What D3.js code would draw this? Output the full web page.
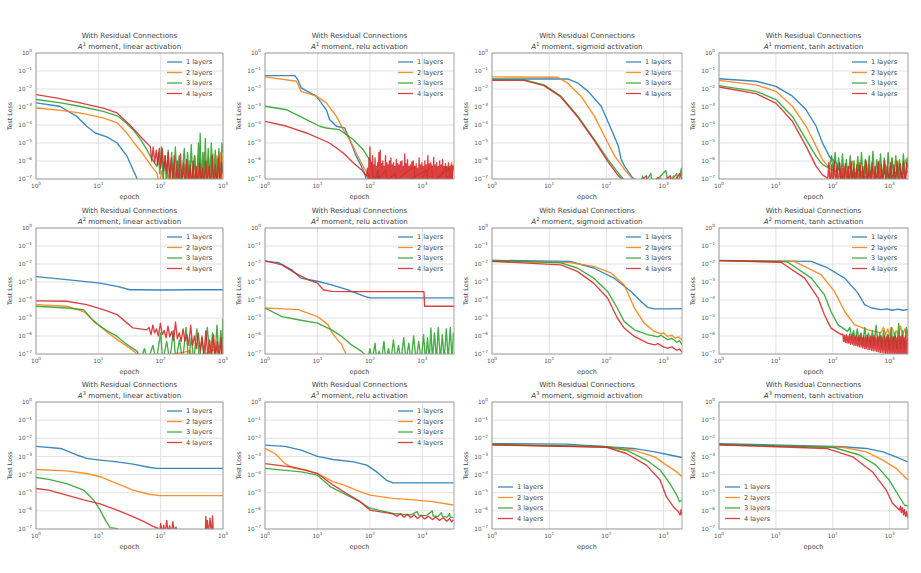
<!DOCTYPE html>
<html><head><meta charset="utf-8">
<script src="https://cdn.jsdelivr.net/npm/d3@7/dist/d3.min.js"></script>
<style>
body{margin:0;background:#ffffff;}
svg{display:block;font-family:"DejaVu Sans","Liberation Sans",sans-serif;}
</style>
</head><body>
<svg id="chart" width="921" height="573"></svg>
<script>
// ---------------- DATA ----------------
const layerLabels = ["1 layers", "2 layers", "3 layers", "4 layers"];
const activations = ["linear", "relu", "sigmoid", "tanh"];
const moments = [1, 2, 3];
const yTickValues = [1e0, 1e-1, 1e-2, 1e-3, 1e-4, 1e-5, 1e-6, 1e-7];
const xTickValues = [1, 10, 100, 1000];
const xMaxByActivation = [1000, 4000, 2100, 2100];
const legendCorner = [
  ["upper", "upper", "upper", "upper"],
  ["upper", "upper", "upper", "upper"],
  ["upper", "upper", "lower", "lower"]
];

// Each series: [epoch, test loss]
const A1_linear = [
  [[1,1.7e-3],[2.4,1.1e-3],[4.5,3e-4],[6.5,8.5e-5],[8.9,3.6e-5],[13.7,2.2e-5],[20,1e-5],[29,1.8e-6],[36,3.3e-7],[44,7e-8]],
  [[1,8.8e-4],[2.5,6.5e-4],[5,4.7e-4],[12,2.5e-4],[20,1.3e-4],[28,4e-5],[36,1.2e-5],[48,3.5e-6],[60,1.2e-6],[75,4e-7],[87,2.2e-7],
   [95,5e-8],[105,3e-7],[115,4e-8],[130,2e-7],[145,3e-8],[160,4e-7],[175,3e-8],[195,2e-7],[215,4e-8],[240,6e-7],[265,3e-8],[290,1e-6],[320,4e-8],[350,2e-6],[385,5e-8],[420,1.5e-6],[460,4e-8],[500,3e-6],[545,6e-8],[590,1.5e-6],[640,4e-8],[690,2.5e-6],[745,5e-8],[800,2e-6],[860,6e-8],[920,3e-6],[960,8e-8],[1000,2e-6]],
  [[1,2.6e-3],[2.5,1.7e-3],[5,1.1e-3],[12,5.7e-4],[21,3e-4],[28,1.3e-4],[36,5.5e-5],[48,1.5e-5],[60,4.3e-6],[72,1.3e-6],[87,5e-7],
   [92,3e-6],[97,2e-7],[103,6e-6],[110,1e-7],[117,2e-6],[124,5e-8],[132,4e-6],[140,6e-8],[150,3e-6],[160,4e-8],[172,6e-6],[185,5e-8],[198,2e-6],[212,4e-8],[240,5e-6],[255,6e-8],[270,3e-6],[290,4e-8],[310,8e-6],[330,5e-8],[350,2e-6],[376,4e-8],[404,1e-5],[420,5e-8],[430,3.5e-5],[450,4e-8],[475,3e-6],[500,4e-8],[520,1.8e-5],[545,6e-8],[580,5e-6],[610,5e-8],[650,1e-5],[700,4e-8],[750,4e-6],[800,6e-8],[860,5e-6],[920,4e-8],[960,1e-5],[1000,3e-6]],
  [[1,4.9e-3],[2.1,3.2e-3],[5.1,1.7e-3],[12,8.7e-4],[20,4.7e-4],[32,1e-4],[53,1.5e-5],[68,6.5e-6],
   [72,1e-6],[76,6e-6],[80,8e-7],[85,4e-6],[90,6e-7],[95,5e-6],[100,4e-7],[106,5e-6],[112,3e-7],[118,2e-6],[125,2e-7],[132,3e-6],[140,1e-7],[148,1.5e-6],[156,6e-8],[165,2e-6],[175,5e-8],[185,1e-6],[196,4e-8],[208,2.5e-6],[220,5e-8],[233,8e-7],[247,3e-8],[262,1.2e-6],[278,5e-8],[295,6e-7],[313,3e-8],[332,1e-6],[352,4e-8],[373,5e-7],[395,3e-8],[420,8e-7],[445,5e-8],[472,4e-7],[500,3e-8],[530,1e-6],[562,5e-8],[596,5e-7],[632,3e-8],[670,2e-6],[710,4e-8],[752,6e-7],[797,3e-8],[845,1.5e-6],[896,5e-8],[950,8e-7],[1000,2e-7]]
];

const A1_relu = [
  [[1,5.5e-2],[3.7,5.5e-2],[4.3,3e-2],[4.9,1.15e-2],[9.5,4e-3],[14.8,7e-4],[17,2e-4],[23,8.5e-5],[33,6.8e-5],[41,1.6e-5],[55,1.8e-6],[69,5e-7],
   [80,2e-7],[90,4e-8],[150,1.5e-7],[170,4e-8]],
  [[1,4.7e-2],[4,2.7e-2],[4.9,7.4e-3],[9.5,4e-3],[14.8,1.7e-3],[23,3e-4],[31,5.5e-5],[41,1.55e-5],[55,2.8e-6],[74,5e-7],[98,1.4e-7],
   [110,4e-8],[200,3e-7],[220,4e-8],[700,5e-7],[740,4e-8],[1500,6e-7],[1600,4e-8],[2800,5e-7],[3000,4e-8],[3600,8e-7],[3950,3e-7]],
  [[1,1.1e-3],[2.6,7e-4],[6.2,2e-4],[11,8.5e-5],[14.8,6.8e-5],[26,5.5e-5],[48,1.55e-5],[74,4.3e-6],[98,1.2e-6],
   [110,6e-7],[120,5e-8],[140,3e-7],[160,4e-8],[300,2e-7],[330,4e-8],[1200,3e-7],[1300,4e-8],[3200,4e-7],[3400,5e-8],[3950,6e-7]],
  [[1,1.6e-4],[2.6,8.5e-5],[6.2,3.6e-5],[17,1e-5],[31,2.8e-6],[48,8e-7],[69,3.3e-7],[85,1.4e-7],
   [90,4e-7],[93,3e-8],[96,1.5e-6],[98,4e-8],[100,6e-6],[103,5e-8],[106,8e-7],[109,3e-8],[112,2e-6],[115,4e-8],[118,6e-7],[121,3e-8],[125,1.5e-6],[129,4e-8],[132,5e-7],[136,3e-8],[140,8e-7],[144,3e-8],[148,3e-6],[152,4e-8],[157,4e-6],[161,5e-8],[166,7e-7],[171,3e-8],[176,1e-6],[181,4e-8],[187,5e-7],[192,3e-8],[198,2e-6],[204,4e-8],[210,8e-7],[216,3e-8],[222,6e-7],[229,4e-8],[235,1e-6],[242,3e-8],[250,1.5e-6],[257,4e-8],[265,6e-7],[273,3e-8],[282,8e-7],[290,4e-8],[300,5e-7],[309,3e-8],[318,1.2e-6],[328,5e-8],[338,7e-7],[349,3e-8],[360,6e-7],[371,4e-8],[382,9e-7],[394,3e-8],[406,1e-6],[419,4e-8],[432,5e-7],[446,3e-8],[460,2.5e-6],[475,4e-8],[490,7e-7],[505,3e-8],[520,1.2e-6],[537,4e-8],[555,5e-7],[572,3e-8],[590,6e-7],[610,4e-8],[630,9e-7],[650,3e-8],[670,1e-6],[692,4e-8],[715,5e-7],[737,3e-8],[760,7e-7],[785,4e-8],[810,4e-7],[837,3e-8],[865,1.5e-6],[892,4e-8],[920,6e-7],[950,3e-8],[980,8e-7],[1012,4e-8],[1045,5e-7],[1080,3e-8],[1115,1e-6],[1150,4e-8],[1190,6e-7],[1230,3e-8],[1270,2e-6],[1310,4e-8],[1350,7e-7],[1395,3e-8],[1440,8e-7],[1490,4e-8],[1540,5e-7],[1590,3e-8],[1640,1.6e-6],[1695,4e-8],[1750,6e-7],[1810,3e-8],[1870,8e-7],[1935,4e-8],[2000,5e-7],[2065,3e-8],[2130,1e-6],[2200,4e-8],[2270,6e-7],[2345,3e-8],[2420,1.2e-6],[2500,4e-8],[2580,5e-7],[2665,3e-8],[2750,7e-7],[2845,4e-8],[2940,5e-7],[3035,3e-8],[3130,8e-7],[3235,4e-8],[3340,5e-7],[3450,3e-8],[3560,6e-7],[3680,4e-8],[3800,5e-7],[3950,4e-7]]
];

const A1_sigmoid = [
  [[1,3.6e-2],[21,3.6e-2],[32,2.1e-2],[48,7.4e-3],[81,1.1e-3],[123,5.5e-5],[162,6.5e-6],[182,1.2e-6],[209,5e-7],[275,1.4e-7],[363,6e-8]],
  [[1,4.7e-2],[14,4.5e-2],[21,2.1e-2],[36,4e-3],[62,3e-4],[93,2.3e-5],[141,1.8e-6],[209,3.3e-7],[275,1.15e-7],[330,6e-8],
   [600,4e-8],[900,1.2e-7],[950,4e-8],[1500,1.5e-7],[1600,4e-8]],
  [[1,3.3e-2],[3.6,3.3e-2],[8.1,1.7e-2],[16,4e-3],[32,3e-4],[62,1.55e-5],[107,1.2e-6],[162,2.1e-7],[209,8e-8],
   [400,6e-8],[430,1.5e-7],[450,5e-8],[600,2e-7],[630,5e-8],[1100,3e-7],[1200,5e-8],[1700,2e-7],[1800,5e-8],[2050,4e-7],[2100,1e-7]],
  [[1,3e-2],[3.6,3e-2],[8.1,1.55e-2],[16,3.6e-3],[32,2.6e-4],[62,1.3e-5],[107,9e-7],[155,1.8e-7],[195,8e-8],
   [350,5e-8],[500,1.5e-7],[530,4e-8],[800,1.2e-7],[850,4e-8],[1300,1.5e-7],[1400,4e-8],[1900,2e-7],[2100,1e-7]]
];

const A1_tanh = [
  [[1,3.7e-2],[4.5,2.7e-2],[10,1.4e-2],[19.5,4e-3],[34,7e-4],[51,8.5e-5],[66,1e-5],[87,1.8e-6],[115,8e-7],
   [130,3e-7],[150,6e-7],[170,2e-7],[200,5e-7],[230,1.5e-7],[300,4e-7],[350,1e-7],[500,3e-7],[600,8e-8],[900,3e-7],[1000,1e-7],[1500,4e-7],[1700,1e-7],[2100,3e-7]],
  [[1,3e-2],[4.5,1.7e-2],[10,7.4e-3],[19.5,1.1e-3],[34,8.5e-5],[51,6.5e-6],[66,1.2e-6],[87,4e-7],[115,2.5e-7],
   [130,8e-7],[145,1e-7],[165,5e-7],[190,8e-8],[220,1e-6],[250,1e-7],[290,6e-7],[330,8e-8],[380,1.2e-6],[430,1e-7],[500,5e-7],[570,8e-8],[650,1e-6],[740,1e-7],[850,6e-7],[970,8e-8],[1100,1.5e-6],[1250,1e-7],[1450,8e-7],[1650,8e-8],[1900,1.2e-6],[2100,3e-7]],
  [[1,1.55e-2],[4.5,7.4e-3],[10,2.6e-3],[19.5,3e-4],[34,1.55e-5],[51,1.8e-6],[66,6.3e-7],[87,4e-7],
   [95,2e-6],[102,2e-7],[110,3e-6],[118,1.5e-7],[127,1.5e-6],[137,1e-7],[148,2.5e-6],[160,8e-8],[173,1.2e-6],[187,1e-7],[202,2e-6],[218,8e-8],[236,1e-6],[255,6e-8],[275,1.8e-6],[297,8e-8],[320,3e-6],[345,6e-8],[373,1.2e-6],[403,8e-8],[435,2e-6],[470,6e-8],[508,3.5e-6],[548,8e-8],[592,1.2e-6],[640,6e-8],[690,2.5e-6],[745,8e-8],[805,1.5e-6],[870,6e-8],[940,3e-6],[1015,8e-8],[1100,1.5e-6],[1185,6e-8],[1280,2e-6],[1380,8e-8],[1490,1.2e-6],[1610,6e-8],[1740,2.5e-6],[1880,8e-8],[2030,1.5e-6],[2100,5e-7]],
  [[1,1.3e-2],[4.5,5.5e-3],[10,1.65e-3],[19.5,1.6e-4],[34,6.5e-6],[51,5e-7],[66,1.7e-7],[82,1.1e-7],
   [85,8e-7],[90,4e-8],[95,6e-7],[100,3e-8],[106,1e-6],[112,4e-8],[118,5e-7],[125,3e-8],[132,8e-7],[140,4e-8],[148,4e-7],[157,3e-8],[166,7e-7],[176,4e-8],[187,5e-7],[198,3e-8],[210,9e-7],[222,4e-8],[235,4e-7],[250,3e-8],[265,6e-7],[282,4e-8],[300,8e-7],[318,3e-8],[338,5e-7],[360,4e-8],[382,1e-6],[406,3e-8],[432,6e-7],[460,4e-8],[490,8e-7],[520,3e-8],[555,5e-7],[590,4e-8],[630,9e-7],[670,3e-8],[715,6e-7],[760,4e-8],[810,1.1e-6],[865,3e-8],[920,5e-7],[980,4e-8],[1045,8e-7],[1115,3e-8],[1190,6e-7],[1270,4e-8],[1350,1e-6],[1440,3e-8],[1540,7e-7],[1640,4e-8],[1750,9e-7],[1870,3e-8],[2000,8e-7],[2100,4e-7]]
];

const A2_linear = [
  [[1,2e-3],[3.1,1.35e-3],[10.7,8.7e-4],[20,5.7e-4],[32,3.7e-4],[45,3.7e-4],[100,3.6e-4],[300,3.7e-4],[1000,3.7e-4]],
  [[1,5.5e-5],[3.1,4.5e-5],[5.8,2.3e-5],[10.7,3.5e-6],[15.5,1.2e-6],[22,5e-7],[32,2.1e-7],[42,1e-7],
   [60,5e-8],[300,1.5e-7],[320,5e-8],[800,2e-7],[850,5e-8]],
  [[1,4.5e-5],[3.1,3.6e-5],[5.8,2.9e-5],[8.4,6.5e-6],[13,2.2e-6],[20,9.5e-7],[29,3.3e-7],[42,1.4e-7],
   [48,5e-8],[55,2e-7],[62,4e-8],[75,3e-7],[85,4e-8],[100,1.5e-6],[108,4e-8],[125,5e-7],[140,4e-8],[160,2e-6],[175,4e-8],[200,6e-7],[225,4e-8],[255,3e-6],[280,4e-8],[310,8e-7],[340,4e-8],[380,2.5e-6],[420,4e-8],[460,1e-6],[500,4e-8],[560,3e-6],[620,5e-8],[680,1.5e-6],[740,5e-8],[800,4e-6],[860,5e-8],[920,2e-6],[960,5e-8],[990,8e-6],[1000,2e-6]],
  [[1,9e-5],[3.1,8.5e-5],[6.5,5.5e-5],[12,2.9e-5],[20,1.55e-5],[29,5.2e-6],[36,2.8e-6],[60,2.2e-6],
   [65,3e-6],[70,1.2e-6],[75,4e-6],[80,1.5e-6],[86,2.5e-6],[92,1e-6],[99,5e-6],[106,1.2e-6],[114,2e-6],[122,8e-7],[131,3.5e-6],[140,9e-7],[150,1.8e-6],[161,6e-7],[173,6e-6],[185,7e-7],[199,1.5e-6],[213,5e-7],[229,2.5e-6],[245,5e-7],[263,1.2e-6],[282,3e-7],[303,4e-6],[325,3e-7],[348,1e-6],[374,2e-7],[401,1.5e-6],[430,1.5e-7],[461,8e-7],[495,1e-7],[531,2e-6],[570,8e-8],[611,6e-7],[656,7e-8],[704,1.2e-6],[755,6e-8],[810,5e-7],[870,5e-8],[930,8e-7],[970,6e-8],[1000,3e-7]]
];

const A2_relu = [
  [[1,1.4e-2],[1.8,1.2e-2],[3.2,4.9e-3],[4.8,1.65e-3],[10,1.1e-3],[18.6,7e-4],[38,3.7e-4],[79,1.6e-4],[100,1.3e-4],[4000,1.3e-4]],
  [[1,3.6e-5],[1.5,3.4e-5],[4.3,2.9e-5],[10,1.2e-5],[15.8,4.3e-6],[20,1.2e-6],[29,3.3e-7],[35,1e-7],[40,5e-8]],
  [[1,3.6e-5],[2.1,1.2e-5],[4.3,8e-6],[10,5.2e-6],[18.6,2.2e-6],[29,9.5e-7],[44,3.3e-7],[69,1.4e-7],[80,9e-8],
   [90,4e-8],[100,2e-7],[110,4e-8],[125,4e-7],[135,4e-8],[150,1.5e-7],[165,4e-8],[185,5e-7],[200,4e-8],[225,2e-7],[250,4e-8],[280,6e-7],[310,4e-8],[350,3e-7],[390,4e-8],[440,8e-7],[490,4e-8],[550,4e-7],[610,4e-8],[680,1e-6],[760,4e-8],[850,5e-7],[950,4e-8],[1050,1.2e-6],[1150,4e-8],[1250,8e-7],[1350,4e-8],[1450,2.8e-6],[1550,5e-8],[1700,1.5e-6],[1850,4e-8],[2000,3e-6],[2200,5e-8],[2400,1.2e-6],[2600,4e-8],[2850,2.5e-6],[3100,5e-8],[3400,3e-6],[3650,5e-8],[3900,1.5e-6]],
  [[1,1.55e-2],[2.1,9e-3],[3.7,3.2e-3],[6.6,1.35e-3],[10,8.7e-4],[12.9,3.7e-4],[18.6,3e-4],[38,2.9e-4],[1070,2.9e-4],[1100,4.5e-5],[4000,4.5e-5]]
];

const A2_sigmoid = [
  [[1,1.6e-2],[23,1.4e-2],[60,6e-3],[135,1.65e-3],[270,3e-4],[400,8.5e-5],[525,3.9e-5],[690,3.2e-5],[1000,3.2e-5],[2100,3.3e-5]],
  [[1,1.4e-2],[23,1.2e-2],[60,7.4e-3],[120,3.2e-3],[204,7e-4],[309,3.6e-5],[457,5.2e-6],[690,1.8e-6],[900,1.3e-6],[1000,1.5e-6],[1175,9.5e-7],[1400,1.1e-6],[1600,7.5e-7],[1800,9e-7],[2100,6.3e-7]],
  [[1,1.6e-2],[16,1.15e-2],[31,6e-3],[60,1.65e-3],[105,3e-4],[155,3.6e-5],[204,6.5e-6],[309,2.2e-6],[525,1.2e-6],[800,9e-7],[900,1.1e-6],[1175,6.3e-7],[1400,7.5e-7],[1700,4.5e-7],[1900,5.5e-7],[2100,3.3e-7]],
  [[1,1.4e-2],[16,9e-3],[31,3.9e-3],[60,8.7e-4],[105,1.3e-4],[155,1e-5],[204,2.8e-6],[309,9.5e-7],[525,4e-7],[700,3.2e-7],[800,3.8e-7],[1000,2.4e-7],[1175,2.1e-7],[1400,2.5e-7],[1700,1.6e-7],[1900,1.9e-7],[2100,1.3e-7]]
];

const A2_tanh = [
  [[1,1.6e-2],[42,1.4e-2],[81,6e-3],[162,1.65e-3],[275,2.5e-4],[363,5.5e-5],[480,3.6e-5],[710,2.9e-5],[900,3.2e-5],[1100,2.7e-5],[1400,3.1e-5],[1700,2.7e-5],[2100,2.9e-5]],
  [[1,1.55e-2],[21,1.4e-2],[62,2.6e-3],[107,3e-4],[162,2.3e-5],[240,4.3e-6],[417,2.2e-6],[700,1.5e-6],
   [780,3e-6],[850,1.2e-6],[930,2.5e-6],[1000,1e-6],[1100,3e-6],[1200,1.2e-6],[1300,2e-6],[1420,1e-6],[1550,3.5e-6],[1700,1.2e-6],[1850,2.5e-6],[2000,1e-6],[2100,2e-6]],
  [[1,1.55e-2],[16,1.3e-2],[42,1.65e-3],[71,2e-4],[93,2.3e-5],[123,4.3e-6],[182,1.8e-6],
   [200,3e-6],[215,8e-7],[232,2e-6],[250,6e-7],[270,2.5e-6],[290,5e-7],[313,1.5e-6],[338,4e-7],[365,3e-6],[394,4e-7],[425,1.5e-6],[460,3e-7],[495,2e-6],[535,3e-7],[577,4e-6],[623,3e-7],[672,1.5e-6],[725,2.5e-7],[782,2e-6],[845,2.5e-7],[912,1.2e-6],[985,2e-7],[1063,3e-6],[1147,2e-7],[1238,1.5e-6],[1336,2e-7],[1442,5e-6],[1556,2e-7],[1680,2e-6],[1813,2e-7],[1957,3e-6],[2100,1e-6]],
  [[1,1.55e-2],[12.3,1.25e-2],[32,1.65e-3],[55,1.3e-4],[71,1.55e-5],[93,2.75e-6],[141,1.2e-6],
   [150,1.3e-6],[155,5e-7],[160,1.1e-6],[166,4.5e-7],[172,1.2e-6],[178,4e-7],[184,1e-6],[191,4e-7],[198,1.3e-6],[205,3.5e-7],[212,1e-6],[220,3.5e-7],[228,1.2e-6],[236,3e-7],[245,9e-7],[254,3e-7],[263,1.1e-6],[272,2.8e-7],[282,9e-7],[292,2.5e-7],[303,1.2e-6],[314,2.5e-7],[325,8e-7],[337,2.2e-7],[349,1e-6],[362,2e-7],[375,9e-7],[388,2e-7],[402,1.1e-6],[417,1.8e-7],[432,8e-7],[448,1.8e-7],[464,1e-6],[481,1.6e-7],[498,9e-7],[516,1.5e-7],[535,1.1e-6],[554,1.5e-7],[574,8e-7],[595,1.4e-7],[617,1e-6],[639,1.3e-7],[662,9e-7],[686,1.2e-7],[711,1e-6],[737,1.2e-7],[764,8e-7],[792,1.1e-7],[820,1e-6],[850,1e-7],[881,9e-7],[913,1e-7],[946,1.1e-6],[980,9e-8],[1016,8e-7],[1053,9e-8],[1091,1e-6],[1130,8e-8],[1171,9e-7],[1214,8e-8],[1258,1e-6],[1303,7e-8],[1350,8e-7],[1400,7e-8],[1450,1e-6],[1503,6e-8],[1557,9e-7],[1614,6e-8],[1672,1.1e-6],[1733,6e-8],[1796,8e-7],[1861,5e-8],[1928,1e-6],[1998,5e-8],[2070,9e-7],[2100,3e-7]]
];

const A3_linear = [
  [[1,3.6e-3],[2.5,2.75e-3],[4.5,1.2e-3],[6.5,7.8e-4],[10.7,6.3e-4],[20,5e-4],[36,3.8e-4],[68,2.45e-4],[87,2.2e-4],[1000,2.2e-4]],
  [[1,1.9e-4],[3.1,1.6e-4],[6.5,1.15e-4],[10.7,7.6e-5],[20,3.2e-5],[36,1.4e-5],[68,8e-6],[98,6.9e-6],[1000,6.9e-6]],
  [[1,6.9e-5],[1.6,5.4e-5],[3.1,3.2e-5],[5.8,1.4e-5],[8.4,4e-6],[10.7,1.1e-6],[12.9,3.2e-7],[15.5,1.2e-7],[20,1.05e-7],[22,8e-8]],
  [[1,1.7e-5],[1.6,1.4e-5],[3.1,7.4e-6],[5.8,4e-6],[10.7,2.4e-6],[20,1.1e-6],[36,4.8e-7],[53,2.6e-7],[77,1.35e-7],[90,1.1e-7],
   [95,5e-8],[100,2e-7],[106,6e-8],[112,1.6e-7],[118,5e-8],[125,3e-7],[132,6e-8],[140,1.5e-7],[148,5e-8],[157,2.5e-7],[166,6e-8],[176,1.3e-7],[185,5e-8],[195,4e-8],[520,4e-8],[530,5e-7],[545,5e-8],[560,3e-7],[580,5e-8],[620,4e-7],[650,5e-8],[680,5.2e-7],[700,5e-8]]
];

const A3_relu = [
  [[1,4.2e-3],[2.4,3.6e-3],[4.9,2.2e-3],[10,1e-3],[20,6.8e-4],[49,5e-4],[87,3.3e-4],[135,1.4e-4],[204,5e-5],[275,3.5e-5],[3900,3.5e-5]],
  [[1,2.75e-3],[1.55,1.45e-3],[2.4,4e-4],[3.6,2.2e-4],[6,1.8e-4],[11.5,9.3e-5],[20,4e-5],[32,2.6e-5],[55,1.4e-5],[100,7.4e-6],[275,4.9e-6],[600,4.2e-6],[1550,3.2e-6],[3900,2.1e-6]],
  [[1,2.2e-4],[4.9,1.4e-4],[10,9.3e-5],[17.8,2.1e-5],[32,9e-6],[65,3.2e-6],[100,1.4e-6],[275,7.2e-7],[400,6.5e-7],[600,6e-7],[800,9e-7],[850,5.8e-7],[1200,5.5e-7],[1550,1e-6],[1600,5.2e-7],[2000,5e-7],[2300,8e-7],[2400,4.8e-7],[3000,4.6e-7],[3300,7e-7],[3400,4.4e-7],[3900,4.4e-7]],
  [[1,4e-4],[3.6,2.5e-4],[10,1.15e-4],[20,2.6e-5],[36,9e-6],[65,3.2e-6],[100,1.1e-6],[275,6.8e-7],[330,5e-7],[380,7e-7],[450,4.5e-7],[520,6.5e-7],[600,4.2e-7],[700,6e-7],[800,3.8e-7],[950,5.5e-7],[1100,3.6e-7],[1300,5e-7],[1550,3.3e-7],[1800,4.6e-7],[2100,3e-7],[2500,4.2e-7],[2900,2.7e-7],[3300,3.8e-7],[3600,2.5e-7],[3900,3.2e-7]]
];

const A3_sigmoid = [
  [[1,5.1e-3],[20,4.8e-3],[100,3.4e-3],[295,2.75e-3],[700,1.8e-3],[1290,1.2e-3],[2100,8.7e-4]],
  [[1,4.2e-3],[100,3.4e-3],[295,2.2e-3],[700,9.5e-4],[1120,3.3e-4],[1700,1.4e-4],[2100,7.6e-5]],
  [[1,4.6e-3],[100,3.4e-3],[224,2.2e-3],[500,6.3e-4],[870,1.8e-4],[1290,3.2e-5],[1700,7.4e-6],[1900,3.2e-6],[2100,4e-6]],
  [[1,4.4e-3],[100,3.2e-3],[224,1.45e-3],[500,3.3e-4],[870,5e-5],[1120,6e-6],[1480,1.7e-6],[1820,9e-7],[1950,5.9e-7],[2030,1.2e-6],[2100,6e-7]]
];

const A3_tanh = [
  [[1,5.1e-3],[150,3.4e-3],[390,2.75e-3],[760,1.8e-3],[1290,9.5e-4],[2100,5e-4]],
  [[1,4.2e-3],[150,3.2e-3],[390,1.8e-3],[760,6.3e-4],[1290,2.2e-4],[2100,5e-5]],
  [[1,4.6e-3],[100,3.2e-3],[295,1.2e-3],[575,3.3e-4],[980,5e-5],[1480,6e-6],[1820,2.1e-6],[2100,1.8e-6]],
  [[1,4.4e-3],[78,2.75e-3],[224,9.5e-4],[500,1.4e-4],[870,1.4e-5],[1120,2.6e-6],[1480,1.1e-6],[1550,1.8e-6],[1600,8e-7],[1680,1.5e-6],[1750,6e-7],[1820,1.2e-6],[1900,5e-7],[1980,9e-7],[2050,4.5e-7],[2100,7e-7]]
];

const panelData = [
  [A1_linear, A1_relu, A1_sigmoid, A1_tanh],
  [A2_linear, A2_relu, A2_sigmoid, A2_tanh],
  [A3_linear, A3_relu, A3_sigmoid, A3_tanh]
];

// ---------------- LAYOUT / STYLE ----------------
const seriesColors = ["#1f77b4", "#ff7f0e", "#2ca02c", "#d62728"];
const colLeft = [36, 265, 492, 719];
const colRight = [223, 454, 682, 908];
const rowTop = [53, 228, 402];
const rowBottom = [179, 354, 529];

const svg = d3.select("#chart");
svg.append("rect").attr("width", 921).attr("height", 573).attr("fill", "#ffffff");

const supDigits = (n) => (n < 0 ? "\u2212" + Math.abs(n) : String(n));

function tickLabel(sel, exp) {
  sel.append("tspan").text("10");
  sel.append("tspan").attr("dy", -2.8).attr("font-size", 4.3).text(supDigits(exp));
}

panelData.forEach((row, r) => {
  row.forEach((series, c) => {
    const L = colLeft[c], R = colRight[c], T = rowTop[r], B = rowBottom[r];
    const x = d3.scaleLog().domain([1, xMaxByActivation[c]]).range([L, R]);
    const y = d3.scaleLog().domain([1e-7, 1e0]).range([B, T]);
    const g = svg.append("g");
    const clipId = `clip-${r}-${c}`;
    g.append("clipPath").attr("id", clipId)
      .append("rect").attr("x", L).attr("y", T).attr("width", R - L).attr("height", B - T);

    g.append("rect").attr("x", L).attr("y", T).attr("width", R - L).attr("height", B - T).attr("fill", "#fff");

    // grid
    const xg = xTickValues.filter(v => v <= xMaxByActivation[c]);
    g.selectAll(".gx").data(xg).join("line")
      .attr("x1", d => x(d)).attr("x2", d => x(d)).attr("y1", T).attr("y2", B)
      .attr("stroke", "#d9d9d9").attr("stroke-width", 0.8);
    g.selectAll(".gy").data(yTickValues).join("line")
      .attr("x1", L).attr("x2", R).attr("y1", d => y(d)).attr("y2", d => y(d))
      .attr("stroke", "#d9d9d9").attr("stroke-width", 0.8);

    // curves
    const line = d3.line().x(d => x(d[0])).y(d => y(d[1]));
    const cg = g.append("g").attr("clip-path", `url(#${clipId})`);
    series.forEach((s, i) => {
      cg.append("path").attr("d", line(s)).attr("fill", "none")
        .attr("stroke", seriesColors[i]).attr("stroke-width", 1.35)
        .attr("stroke-opacity", 0.88).attr("stroke-linejoin", "round");
    });

    // frame
    g.append("rect").attr("x", L).attr("y", T).attr("width", R - L).attr("height", B - T)
      .attr("fill", "none").attr("stroke", "#9a9a9a").attr("stroke-width", 0.9);

    // y tick labels
    yTickValues.forEach(v => {
      const t = g.append("text").attr("x", L - 4).attr("y", y(v) + 2.2)
        .attr("text-anchor", "end").attr("font-size", 5.8).attr("fill", "#555");
      tickLabel(t, Math.round(Math.log10(v)));
    });
    // x tick labels
    xg.forEach(v => {
      const t = g.append("text").attr("x", x(v)).attr("y", B + 9)
        .attr("text-anchor", "middle").attr("font-size", 5.8).attr("fill", "#555");
      tickLabel(t, Math.round(Math.log10(v)));
    });

    // axis labels
    g.append("text").attr("x", (L + R) / 2).attr("y", B + 20)
      .attr("text-anchor", "middle").attr("font-size", 6.5).attr("fill", "#444").text("epoch");
    g.append("text").attr("transform", `translate(${L - 24},${(T + B) / 2}) rotate(-90)`)
      .attr("text-anchor", "middle").attr("font-size", 6.3).attr("fill", "#444").text("Test Loss");

    // title
    g.append("text").attr("x", (L + R) / 2).attr("y", T - 15)
      .attr("text-anchor", "middle").attr("font-size", 7.2).attr("fill", "#444")
      .text("With Residual Connections");
    const t2 = g.append("text").attr("x", (L + R) / 2).attr("y", T - 4)
      .attr("text-anchor", "middle").attr("font-size", 7.2).attr("fill", "#444");
    t2.append("tspan").attr("font-style", "italic").text("A");
    t2.append("tspan").attr("dy", -3).attr("font-size", 5).text(moments[r]);
    t2.append("tspan").attr("dy", 3).text(` moment, ${activations[c]} activation`);

    // legend
    const upper = legendCorner[r][c] === "upper";
    const lx0 = upper ? R - 56 : L + 6;
    const ly0 = upper ? T + 9 : B - 42;
    layerLabels.forEach((lab, i) => {
      const yy = ly0 + i * 10.5;
      g.append("line").attr("x1", lx0).attr("x2", lx0 + 15).attr("y1", yy).attr("y2", yy)
        .attr("stroke", seriesColors[i]).attr("stroke-width", 1.3).attr("stroke-opacity", 0.88);
      g.append("text").attr("x", lx0 + 19).attr("y", yy + 2.3)
        .attr("font-size", 6.6).attr("fill", "#444").text(lab);
    });
  });
});
</script>
</body></html>
